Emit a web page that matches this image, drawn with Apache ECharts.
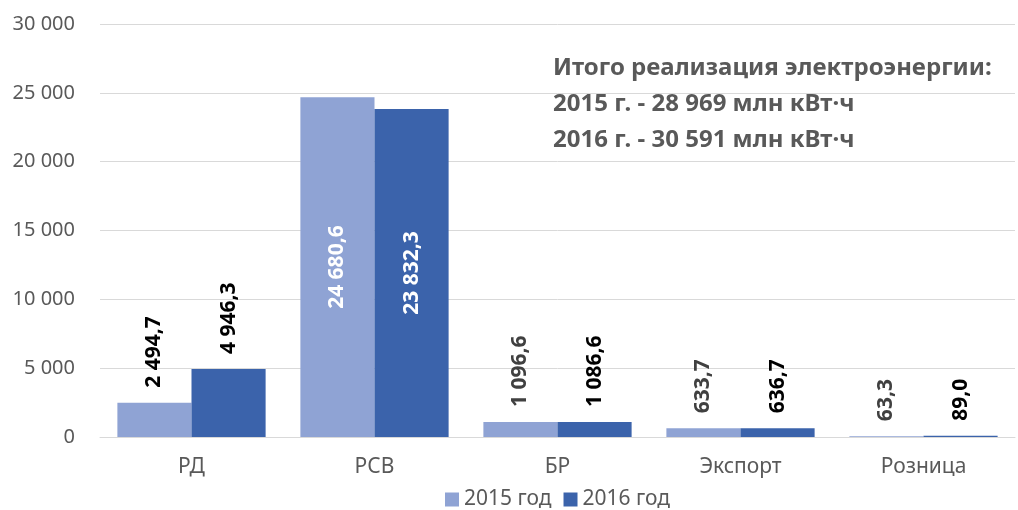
<!DOCTYPE html>
<html>
<head>
<meta charset="utf-8">
<script src="https://cdn.jsdelivr.net/npm/echarts@6/dist/echarts.min.js"></script>
<style>
  html, body { margin: 0; padding: 0; background: #fff; }
  #chart { width: 1018px; height: 510px; }
</style>
</head>
<body>
<div id="chart"></div>
<script>
const categories = ['РД', 'РСВ', 'БР', 'Экспорт', 'Розница'];
const values2015 = [2494.7, 24680.6, 1096.6, 633.7, 63.3];
const values2016 = [4946.3, 23832.3, 1086.6, 636.7, 89.0];
const labelColors2015 = ['#000000', '#ffffff', '#404040', '#404040', '#404040'];
const labelColors2016 = ['#000000', '#ffffff', '#000000', '#000000', '#000000'];
const yTicks = [0, 5000, 10000, 15000, 20000, 25000, 30000];

const font = 'Noto Sans';

function fmt(v, dec) {
    let s = v.toFixed(dec).split('.');
    let int = s[0].replace(/\B(?=(\d{3})+(?!\d))/g, ' ');
    return s.length > 1 ? int + ',' + s[1] : int;
}

function buildData(values, colors) {
    return values.map(function (v, i) {
        let inside = v > 20000;
        return {
            value: v,
            label: {
                color: colors[i],
                position: inside ? 'inside' : 'top',
                align: inside ? 'center' : 'left',
                distance: 15
            }
        };
    });
}

let myChart = echarts.init(document.getElementById('chart'));

let option = {
    animation: false,
    textStyle: { fontFamily: font },
    title: {
        text: 'Итого реализация электроэнергии:\n2015 г. - 28 969 млн кВт·ч\n2016 г. - 30 591 млн кВт·ч',
        left: 548,
        top: 45,
        textStyle: {
            fontFamily: font,
            fontSize: 24,
            fontWeight: 'bold',
            color: '#595959',
            lineHeight: 36
        }
    },
    legend: {
        left: 440,
        top: 484,
        icon: 'rect',
        itemWidth: 14,
        itemHeight: 14,
        itemGap: 12,
        itemStyle: { borderWidth: 0 },
        textStyle: { fontFamily: font, fontSize: 21, color: '#595959' },
        data: ['2015 год', '2016 год']
    },
    grid: {
        left: 100,
        right: 3,
        top: 24,
        bottom: 73
    },
    xAxis: {
        type: 'category',
        data: categories,
        axisLine: { lineStyle: { color: '#d9d9d9' } },
        axisTick: { show: false },
        axisLabel: { fontFamily: font, fontSize: 21, color: '#595959', margin: 20 }
    },
    yAxis: {
        type: 'value',
        min: yTicks[0],
        max: yTicks[yTicks.length - 1],
        interval: 5000,
        axisLine: { show: false },
        axisTick: { show: false },
        splitLine: { lineStyle: { color: '#d9d9d9' } },
        axisLabel: {
            fontFamily: font,
            fontSize: 20,
            color: '#595959',
            margin: 25,
            formatter: function (v) { return fmt(v, 0); }
        }
    },
    series: [
        {
            name: '2015 год',
            type: 'bar',
            barGap: '0%',
            barCategoryGap: '19%',
            itemStyle: { color: '#8fa3d4' },
            label: {
                show: true,
                rotate: 90,
                verticalAlign: 'middle',
                fontFamily: font,
                fontSize: 21,
                fontWeight: 'bold',
                formatter: function (p) { return fmt(p.value, 1); }
            },
            data: buildData(values2015, labelColors2015)
        },
        {
            name: '2016 год',
            type: 'bar',
            itemStyle: { color: '#3b63ab' },
            label: {
                show: true,
                rotate: 90,
                verticalAlign: 'middle',
                fontFamily: font,
                fontSize: 21,
                fontWeight: 'bold',
                formatter: function (p) { return fmt(p.value, 1); }
            },
            data: buildData(values2016, labelColors2016)
        }
    ]
};

myChart.setOption(option);
</script>
</body>
</html>
